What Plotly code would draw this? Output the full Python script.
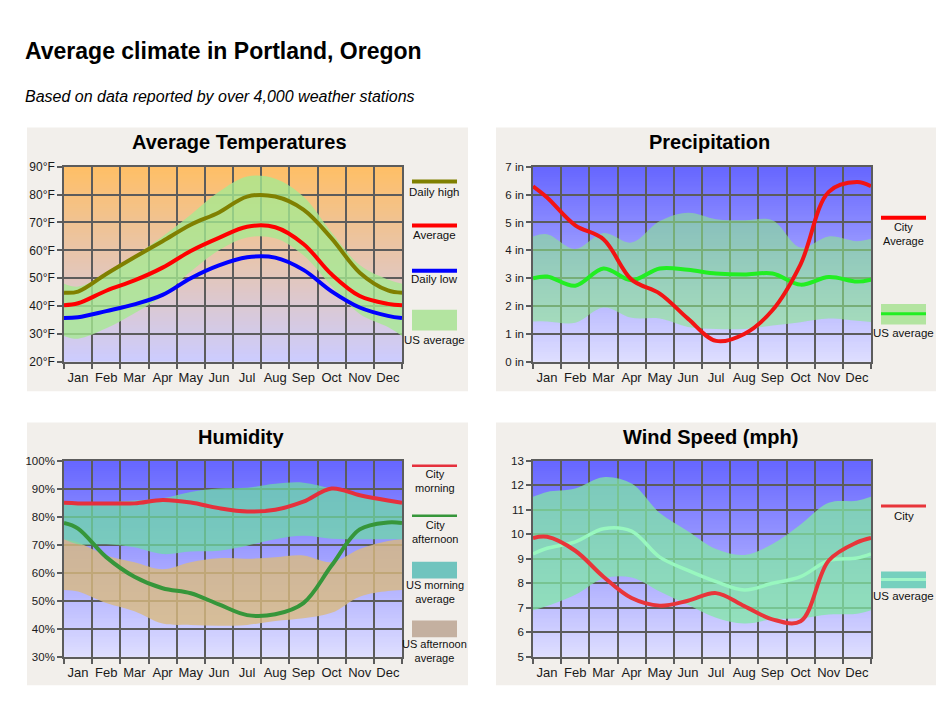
import plotly.graph_objects as go

W, H = 936, 705

months = ["Jan", "Feb", "Mar", "Apr", "May", "Jun", "Jul", "Aug", "Sep", "Oct", "Nov", "Dec"]
# sample positions (in months): start of Jan, middle of every month, end of Dec
x_pos = [0, 0.5, 1.5, 2.5, 3.5, 4.5, 5.5, 6.5, 7.5, 8.5, 9.5, 10.5, 11.5, 12]

# Average temperatures, deg F
temp_high = [44.8, 45.2, 51.5, 57.5, 63.3, 69.2, 73.6, 79.3, 79.3, 74.6, 64.3, 52.0, 45.6, 44.8]
temp_avg = [40.3, 41.0, 45.5, 49.2, 53.8, 59.8, 64.5, 68.5, 68.3, 62.3, 51.4, 43.6, 40.8, 40.3]
temp_low = [35.7, 36.0, 38.2, 40.6, 44.0, 50.0, 54.6, 57.5, 57.4, 53.0, 45.3, 39.5, 36.5, 35.7]
temp_us_hi = [48.0, 47.0, 51.5, 58.0, 65.0, 72.8, 81.0, 86.5, 85.7, 79.3, 66.4, 54.7, 49.5, 48.0]
temp_us_lo = [29.3, 28.3, 32.0, 37.4, 43.6, 52.4, 60.0, 64.6, 64.3, 58.2, 47.1, 37.2, 32.5, 29.3]

# Precipitation, inches
precip_city = [6.3, 5.9, 4.9, 4.4, 2.95, 2.45, 1.55, 0.75, 1.0, 1.85, 3.5, 6.1, 6.45, 6.3]
precip_us = [3.0, 3.06, 2.73, 3.35, 2.93, 3.35, 3.3, 3.17, 3.13, 3.17, 2.77, 3.04, 2.88, 2.95]
precip_us_hi = [4.5, 4.58, 4.05, 4.62, 4.28, 5.05, 5.35, 5.12, 5.08, 5.08, 4.1, 4.5, 4.33, 4.42]
precip_us_lo = [1.45, 1.45, 1.4, 1.95, 1.58, 1.55, 1.25, 1.18, 1.18, 1.3, 1.42, 1.55, 1.47, 1.43]

# Humidity, %
hum_morning = [85.0, 84.8, 84.8, 84.8, 86.0, 85.1, 83.1, 81.9, 82.5, 85.4, 90.1, 87.7, 85.8, 85.0]
hum_afternoon = [77.8, 75.8, 65.6, 58.6, 54.5, 52.7, 48.7, 44.9, 45.2, 49.2, 62.6, 75.5, 78.0, 77.8]
hum_us_morn_hi = [84.6, 84.2, 85.1, 85.8, 86.6, 88.9, 90.1, 90.4, 91.8, 92.2, 90.1, 88.1, 86.2, 84.6]
hum_us_morn_lo = [72.0, 70.2, 70.2, 69.1, 66.7, 67.6, 67.9, 69.7, 72.0, 73.2, 72.2, 72.0, 72.0, 72.0]
hum_us_aft_hi = [72.0, 70.8, 66.2, 63.8, 61.3, 63.8, 65.2, 65.0, 65.6, 66.2, 63.8, 68.5, 71.4, 72.0]
hum_us_aft_lo = [53.9, 53.3, 49.2, 46.3, 41.9, 41.4, 41.1, 41.4, 42.8, 43.8, 45.7, 51.5, 53.5, 53.9]

# Wind speed, mph
wind_city = [9.85, 9.9, 9.33, 8.27, 7.4, 7.09, 7.29, 7.6, 7.07, 6.53, 6.45, 8.93, 9.67, 9.85]
wind_us = [9.2, 9.43, 9.69, 10.23, 10.13, 9.07, 8.53, 8.07, 7.73, 8.0, 8.27, 8.93, 9.03, 9.2]
wind_us_hi = [11.53, 11.73, 11.87, 12.33, 12.07, 10.87, 10.13, 9.4, 9.16, 9.6, 10.4, 11.29, 11.37, 11.53]
wind_us_lo = [6.9, 7.07, 7.53, 8.2, 8.24, 7.67, 7.13, 6.6, 6.36, 6.53, 6.57, 6.73, 6.76, 6.9]

# y axis ticks per panel
temp_ticks = [20, 30, 40, 50, 60, 70, 80, 90]
precip_ticks = [0, 1, 2, 3, 4, 5, 6, 7]
hum_ticks = [30, 40, 50, 60, 70, 80, 90, 100]
wind_ticks = [5, 6, 7, 8, 9, 10, 11, 12, 13]

FONT = "Liberation Sans, Arial, sans-serif"
GRID = "#5c5c5c"
PANEL_BG = "#f2efeb"


def pxx(p):
    return p / W


def pxy(p):
    return 1 - p / H


def sfx(k):
    # plotly names the first axes "x"/"y", not "x1"/"y1"
    return "" if k == 1 else str(k)


def mix(c1, c2, t):
    return "rgb(%d,%d,%d)" % tuple(round(a + (b - a) * t) for a, b in zip(c1, c2))


# pixel boxes: plot areas and grey panels (left, top, right, bottom)
plot_box = {1: (64, 163, 402, 362), 2: (533, 163, 871, 362),
            3: (64, 463, 402, 663), 4: (533, 463, 871, 663)}
panel_box = {1: (27, 123, 468, 392), 2: (496, 123, 936, 392),
             3: (27, 424, 468, 692), 4: (496, 424, 936, 692)}

fig = go.Figure()
shapes = []
annotations = []

for k, (l, t, r, b) in panel_box.items():
    shapes.append(dict(type="rect", xref="paper", yref="paper", x0=pxx(l), x1=pxx(r),
                       y0=pxy(b), y1=pxy(t), fillcolor=PANEL_BG, line_width=0, layer="below"))

# vertical gradient behind every plot area (bottom colour, top colour)
gradients = {1: ((204, 204, 255), (255, 191, 102)),
             2: ((222, 222, 255), (102, 102, 255)),
             3: ((222, 222, 255), (102, 102, 255)),
             4: ((222, 222, 255), (102, 102, 255))}
n_strips = 100
for k, (bot, top) in gradients.items():
    for i in range(n_strips):
        shapes.append(dict(type="rect", xref=f"x{sfx(k)} domain", yref=f"y{sfx(k)} domain",
                           x0=0, x1=1, y0=i / n_strips, y1=min(1, (i + 1.6) / n_strips),
                           fillcolor=mix(bot, top, (i + 0.5) / n_strips),
                           line_width=0, layer="below"))


def add_band(k, lo, hi, color):
    fig.add_trace(go.Scatter(x=x_pos, y=lo, xaxis=f"x{sfx(k)}", yaxis=f"y{sfx(k)}", mode="lines",
                             line=dict(width=0, shape="spline"), hoverinfo="skip", showlegend=False))
    fig.add_trace(go.Scatter(x=x_pos, y=hi, xaxis=f"x{sfx(k)}", yaxis=f"y{sfx(k)}", mode="lines",
                             line=dict(width=0, shape="spline"), fill="tonexty", fillcolor=color,
                             hoverinfo="skip", showlegend=False))


def add_line(k, y, color, width):
    fig.add_trace(go.Scatter(x=x_pos, y=y, xaxis=f"x{sfx(k)}", yaxis=f"y{sfx(k)}", mode="lines",
                             line=dict(color=color, width=width, shape="spline", smoothing=1),
                             showlegend=False))


# Average temperatures
add_band(1, temp_us_lo, temp_us_hi, "rgba(165,235,145,0.78)")
add_line(1, temp_high, "#808000", 4)
add_line(1, temp_avg, "#ff0000", 4)
add_line(1, temp_low, "#0000ff", 4)

# Precipitation
add_band(2, precip_us_lo, precip_us_hi, "rgba(140,235,140,0.58)")
add_line(2, precip_us, "#22ee22", 4)
add_line(2, precip_city, "#f21414", 4)

# Humidity
add_band(3, hum_us_aft_lo, hum_us_aft_hi, "rgba(218,186,128,0.8)")
add_band(3, hum_us_morn_lo, hum_us_morn_hi, "rgba(110,222,165,0.72)")
add_line(3, hum_morning, "#e5303c", 4)
add_line(3, hum_afternoon, "#36963a", 4)

# Wind speed
add_band(4, wind_us_lo, wind_us_hi, "rgba(128,232,165,0.74)")
add_line(4, wind_us, "#98f7bf", 3.5)
add_line(4, wind_city, "#e8353a", 4)

titles = {1: ("Average Temperatures", 240, 138), 2: ("Precipitation", 709, 138),
          3: ("Humidity", 241, 439), 4: ("Wind Speed (mph)", 710, 439)}
for k, (txt, cx, cy) in titles.items():
    annotations.append(dict(text=f"<b>{txt}</b>", xref="paper", yref="paper", x=pxx(cx), y=pxy(cy),
                            xanchor="center", yanchor="middle", showarrow=False,
                            font=dict(size=20, color="#000", family=FONT)))

y_setup = {1: (temp_ticks, [f"{v}°F" for v in temp_ticks], 12),
           2: (precip_ticks, [f"{v} in" for v in precip_ticks], 11.5),
           3: (hum_ticks, [f"{v}%" for v in hum_ticks], 11.5),
           4: (wind_ticks, [str(v) for v in wind_ticks], 11.5)}

layout_axes = {}
for k, (l, t, r, b) in plot_box.items():
    tv, tt, fs = y_setup[k]
    layout_axes[f"xaxis{sfx(k)}"] = dict(
        domain=[pxx(l), pxx(r)], anchor=f"y{sfx(k)}", range=[0, 12],
        tickmode="array", tickvals=x_pos[1:-1], ticktext=months, ticks="", showgrid=False,
        minor=dict(tickmode="array", tickvals=list(range(13)), ticks="outside", ticklen=5,
                   tickcolor=GRID, tickwidth=1.5, showgrid=True, gridcolor=GRID, gridwidth=1.6),
        showline=True, mirror=True, linecolor=GRID, linewidth=1.6, zeroline=False,
        tickfont=dict(size=13, color="#1a1a1a", family=FONT), ticklabelstandoff=3, fixedrange=True)
    layout_axes[f"yaxis{sfx(k)}"] = dict(
        domain=[pxy(b), pxy(t)], anchor=f"x{sfx(k)}", range=[tv[0], tv[-1]],
        tickmode="array", tickvals=tv, ticktext=tt, ticks="outside", ticklen=5,
        tickcolor=GRID, tickwidth=1.5, showgrid=True, gridcolor=GRID, gridwidth=1.6,
        showline=True, mirror=True, linecolor=GRID, linewidth=1.6, zeroline=False,
        tickfont=dict(size=fs, color="#1a1a1a", family=FONT), fixedrange=True)

# hand-drawn legends on the right of each panel
left_key = (412, 457)
right_key = (881, 926)
legend_items = [
    # (key x-span, kind, y / y-span, colour, width, label, label centre y, font size)
    (left_key, "line", 178, "#808000", 4, "Daily high", 189, 11.5),
    (left_key, "line", 223, "#ff0000", 4, "Average", 233, 11.5),
    (left_key, "line", 269, "#0000ff", 4, "Daily low", 278, 11.5),
    (left_key, "rect", (309, 330), "#b3e4a0", 0, "US average", 340, 11.5),
    (right_key, "line", 215, "#ff0000", 4, "City<br>Average", 232, 11),
    (right_key, "rect", (303, 324), "#b3e4a0", 0, "US average", 333, 11.5),
    (right_key, "line", 313, "#22ee22", 3, "", 0, 0),
    (left_key, "line", 468, "#e5303c", 2.5, "City<br>morning", 484, 11),
    (left_key, "line", 519, "#36963a", 2.5, "City<br>afternoon", 535.5, 11),
    (left_key, "rect", (566, 583), "#70c4be", 0, "US morning<br>average", 597, 11),
    (left_key, "rect", (626, 643), "#c4b0a0", 0, "US afternoon<br>average", 657, 11),
    (right_key, "line", 509, "#e8353a", 3, "City", 519, 11.5),
    (right_key, "rect", (576, 593), "#76d0be", 0, "US average", 601, 11.5),
    (right_key, "line", 584, "#a0f5c8", 3, "", 0, 0),
]
for (x0, x1), kind, ypos, color, width, txt, ty, fs in legend_items:
    if kind == "line":
        shapes.append(dict(type="line", xref="paper", yref="paper", x0=pxx(x0), x1=pxx(x1),
                           y0=pxy(ypos), y1=pxy(ypos), line=dict(color=color, width=width)))
    else:
        shapes.append(dict(type="rect", xref="paper", yref="paper", x0=pxx(x0), x1=pxx(x1),
                           y0=pxy(ypos[1]), y1=pxy(ypos[0]), fillcolor=color, line_width=0))
    if txt:
        annotations.append(dict(text=txt, xref="paper", yref="paper", x=pxx((x0 + x1) / 2), y=pxy(ty),
                                xanchor="center", yanchor="middle", showarrow=False,
                                font=dict(size=fs, color="#111", family=FONT)))

annotations.append(dict(text="<b>Average climate in Portland, Oregon</b>", xref="paper", yref="paper",
                        x=pxx(23), y=pxy(45), xanchor="left", yanchor="middle", showarrow=False,
                        font=dict(size=23, color="#000", family=FONT)))
annotations.append(dict(text="<i>Based on data reported by over 4,000 weather stations</i>",
                        xref="paper", yref="paper", x=pxx(23), y=pxy(91), xanchor="left",
                        yanchor="middle", showarrow=False,
                        font=dict(size=16, color="#000", family=FONT)))

fig.update_layout(
    width=W, height=H, margin=dict(l=0, r=0, t=0, b=0),
    paper_bgcolor="white", plot_bgcolor="rgba(0,0,0,0)",
    shapes=shapes, annotations=annotations, showlegend=False,
    font=dict(family=FONT), **layout_axes)

# pin the chart to the top-left corner of the page (no body margin)
pin = ("document.body.style.margin='0';"
       "var d=document.getElementById('{plot_id}');"
       "d.style.position='absolute';d.style.left='0px';d.style.top='0px';")
fig.write_html("out.html", post_script=pin, config={"displayModeBar": False})
